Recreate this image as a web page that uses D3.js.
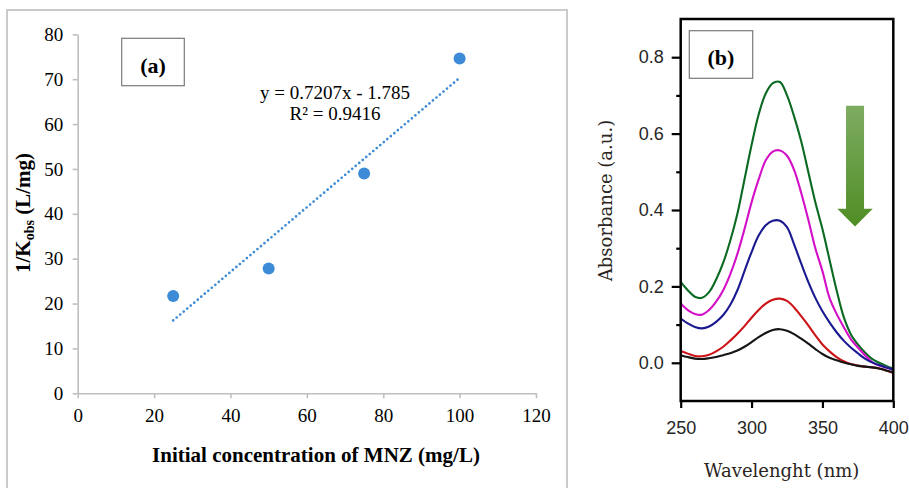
<!DOCTYPE html>
<html><head><meta charset="utf-8">
<script src="https://cdn.jsdelivr.net/npm/d3@7"></script>
<style>body{margin:0;background:#fff}svg{display:block}</style>
</head><body>
<svg id="c" width="909" height="488"></svg>
<script>
// ---------- Panel (a) data ----------
const concMNZ = [25, 50, 75, 100];
const invKobs = [21.7, 27.8, 49.0, 74.6];
const trendX = [25, 100];
const trendY = [16.23, 70.29];
const equationLines = ["y = 0.7207x - 1.785", "R² = 0.9416"];
const aXTicks = [0, 20, 40, 60, 80, 100, 120];
const aYTicks = [0, 10, 20, 30, 40, 50, 60, 70, 80];

// ---------- Panel (b) data ----------
const wavelength = [250,255,260,265,270,275,280,285,290,295,300,305,310,315,320,325,330,335,340,345,350,355,360,365,370,375,380,385,390,395,400];
const absGreen   = [0.212,0.19,0.173,0.170,0.185,0.218,0.262,0.32,0.39,0.48,0.57,0.65,0.705,0.732,0.735,0.70,0.645,0.58,0.50,0.42,0.35,0.27,0.19,0.12,0.075,0.048,0.027,0.01,0.0,-0.008,-0.015];
const absMagenta = [0.155,0.138,0.128,0.126,0.138,0.16,0.19,0.232,0.285,0.35,0.42,0.48,0.53,0.553,0.556,0.542,0.505,0.445,0.375,0.30,0.24,0.17,0.128,0.094,0.062,0.04,0.02,0.002,-0.007,-0.012,-0.018];
const absBlue    = [0.116,0.103,0.094,0.09,0.095,0.107,0.125,0.152,0.19,0.24,0.29,0.333,0.36,0.372,0.372,0.355,0.31,0.26,0.212,0.17,0.135,0.106,0.08,0.058,0.04,0.025,0.011,0.001,-0.006,-0.012,-0.018];
const absRed     = [0.031,0.024,0.018,0.017,0.021,0.03,0.042,0.058,0.076,0.096,0.118,0.138,0.155,0.165,0.168,0.162,0.145,0.122,0.098,0.072,0.048,0.03,0.015,0.004,-0.003,-0.007,-0.01,-0.012,-0.015,-0.02,-0.027];
const absBlack   = [0.02,0.015,0.011,0.01,0.012,0.015,0.02,0.025,0.032,0.042,0.054,0.067,0.078,0.086,0.088,0.084,0.075,0.063,0.05,0.036,0.023,0.013,0.007,0.001,-0.004,-0.008,-0.01,-0.012,-0.015,-0.02,-0.025];
const seriesColors = ["#0b6a22", "#d40fc8", "#1a1a90", "#cc1418", "#151515"];
const bXTicks = [250, 300, 350, 400];
const bYTicks = [0.0, 0.2, 0.4, 0.6, 0.8];
const bYMinor = [0.1, 0.3, 0.5, 0.7];
// arrow annotation (data units)
const arrowWl = 373, arrowTop = 0.673, arrowHeadBase = 0.403, arrowTip = 0.357;

const svg = d3.select("#c");
svg.append("rect").attr("width", 909).attr("height", 488).attr("fill", "#fff");

// ================= Panel (a) =================
const gA = svg.append("g");
gA.append("rect").attr("x", 7).attr("y", 10).attr("width", 560).attr("height", 520)
  .attr("fill", "none").attr("stroke", "#bdbdbd").attr("stroke-width", 1.6);

const xA = d3.scaleLinear().domain([0, 120]).range([77.7, 536]);
const yA = d3.scaleLinear().domain([0, 80]).range([393.3, 34.3]);
const serif = "'Liberation Serif','Times New Roman',serif";

const axA_y = gA.append("g").attr("transform", `translate(${xA(0)},0)`)
  .call(d3.axisLeft(yA).tickValues(aYTicks).tickSize(5).tickSizeOuter(0).tickPadding(9.5));
const axA_x = gA.append("g").attr("transform", `translate(0,${yA(0)})`)
  .call(d3.axisBottom(xA).tickValues(aXTicks).tickSize(5).tickSizeOuter(0).tickPadding(10.5));
[axA_y, axA_x].forEach(ax => {
  ax.selectAll("path,line").attr("stroke", "#bfbfbf").attr("stroke-width", 1.6);
  ax.selectAll("text").attr("font-family", serif).attr("font-size", 19).attr("fill", "#000");
});

// box (a)
gA.append("rect").attr("x", 121.7).attr("y", 38.3).attr("width", 62.6).attr("height", 47.4)
  .attr("fill", "#fff").attr("stroke", "#7a7a7a").attr("stroke-width", 1.2);
gA.append("text").attr("x", 153).attr("y", 73).attr("text-anchor", "middle")
  .attr("font-family", serif).attr("font-weight", "bold").attr("font-size", 22).text("(a)");

// trendline
const blueA = "#3d8bd6";
gA.append("path")
  .attr("d", d3.line().x(d => xA(d[0])).y(d => yA(d[1]))(d3.zip(trendX, trendY)))
  .attr("fill", "none").attr("stroke", blueA).attr("stroke-width", 2.7)
  .attr("stroke-linecap", "round").attr("stroke-dasharray", "0 4.6");

// points
gA.selectAll("circle.pt").data(d3.zip(concMNZ, invKobs)).join("circle")
  .attr("cx", d => xA(d[0])).attr("cy", d => yA(d[1])).attr("r", 6).attr("fill", blueA);

// equation
gA.selectAll("text.eq").data(equationLines).join("text")
  .attr("x", 335).attr("y", (d, i) => 99 + i * 21).attr("text-anchor", "middle")
  .attr("font-family", serif).attr("font-size", 19).attr("fill", "#000").text(d => d);

// axis titles
gA.append("text").attr("x", 316).attr("y", 461.5).attr("text-anchor", "middle")
  .attr("font-family", serif).attr("font-weight", "bold").attr("font-size", 21)
  .text("Initial concentration of MNZ (mg/L)");
const yt = gA.append("text").attr("transform", "translate(30,213) rotate(-90)")
  .attr("text-anchor", "middle").attr("font-family", serif).attr("font-weight", "bold").attr("font-size", 21);
yt.append("tspan").text("1/K");
yt.append("tspan").attr("font-size", 14).attr("dy", 4).text("obs");
yt.append("tspan").attr("dy", -4).text(" (L/mg)");

// ================= Panel (b) =================
const gB = svg.append("g");
const xB = d3.scaleLinear().domain([250, 400]).range([680.7, 893.3]);
const yB = d3.scaleLinear().domain([-0.1, 0.9]).range([401, 19]);
const sans = "'Liberation Sans',Arial,sans-serif";
const serifB = "'DejaVu Serif',serif";

const axB_y = gB.append("g").attr("transform", `translate(${xB(250)},0)`)
  .call(d3.axisLeft(yB).tickValues(bYTicks).tickFormat(d3.format(".1f")).tickSize(9).tickSizeOuter(0).tickPadding(8));
const axB_ym = gB.append("g").attr("transform", `translate(${xB(250)},0)`)
  .call(d3.axisLeft(yB).tickValues(bYMinor).tickFormat("").tickSize(4.5).tickSizeOuter(0));
const axB_x = gB.append("g").attr("transform", `translate(0,${yB(-0.1)})`)
  .call(d3.axisBottom(xB).tickValues(bXTicks).tickSize(7).tickSizeOuter(0).tickPadding(13.5));
[axB_y, axB_ym, axB_x].forEach(ax => {
  ax.select(".domain").remove();
  ax.selectAll("line").attr("stroke", "#000").attr("stroke-width", 2.2);
  ax.selectAll("text").attr("font-family", sans).attr("font-size", 18).attr("fill", "#262626");
});

// curves
const lineB = d3.line().x(d => xB(d[0])).y(d => yB(d[1])).curve(d3.curveCatmullRom.alpha(0.5));
const allSeries = [absGreen, absMagenta, absBlue, absRed, absBlack];
gB.selectAll("path.spec").data(allSeries).join("path")
  .attr("d", s => lineB(d3.zip(wavelength, s)))
  .attr("fill", "none").attr("stroke", (d, i) => seriesColors[i]).attr("stroke-width", 2.1);

// frame
gB.append("rect").attr("x", xB(250)).attr("y", yB(0.9)).attr("width", xB(400) - xB(250)).attr("height", yB(-0.1) - yB(0.9))
  .attr("fill", "none").attr("stroke", "#000").attr("stroke-width", 2.5);

// box (b)
gB.append("rect").attr("x", 689.3).attr("y", 30.7).attr("width", 63.4).attr("height", 47.6)
  .attr("fill", "#fff").attr("stroke", "#7a7a7a").attr("stroke-width", 1.2);
gB.append("text").attr("x", 721).attr("y", 65).attr("text-anchor", "middle")
  .attr("font-family", serif).attr("font-weight", "bold").attr("font-size", 22).text("(b)");

// arrow
const defs = svg.append("defs");
const grad = defs.append("linearGradient").attr("id", "ag").attr("gradientUnits", "userSpaceOnUse")
  .attr("x1", 0).attr("x2", 0).attr("y1", yB(arrowTop)).attr("y2", yB(arrowTip));
grad.append("stop").attr("offset", 0).attr("stop-color", "#7eac62");
grad.append("stop").attr("offset", 1).attr("stop-color", "#4f8d24");
const ax0 = xB(arrowWl);
const arrowPts = [
  [ax0 - 9, yB(arrowTop)], [ax0 + 9, yB(arrowTop)], [ax0 + 9, yB(arrowHeadBase)],
  [ax0 + 17.7, yB(arrowHeadBase)], [ax0, yB(arrowTip)], [ax0 - 17.7, yB(arrowHeadBase)],
  [ax0 - 9, yB(arrowHeadBase)]
];
gB.append("path").attr("d", "M" + arrowPts.map(p => p.join(",")).join("L") + "Z").attr("fill", "url(#ag)");

// axis titles
gB.append("text").attr("x", 781.7).attr("y", 476.5).attr("text-anchor", "middle")
  .attr("font-family", serifB).attr("font-size", 18).attr("fill", "#2a2522").text("Wavelenght (nm)");
gB.append("text").attr("transform", "translate(612,200.5) rotate(-90)").attr("text-anchor", "middle")
  .attr("font-family", serifB).attr("font-size", 18).attr("fill", "#2a2522").text("Absorbance (a.u.)");
</script>
</body></html>
